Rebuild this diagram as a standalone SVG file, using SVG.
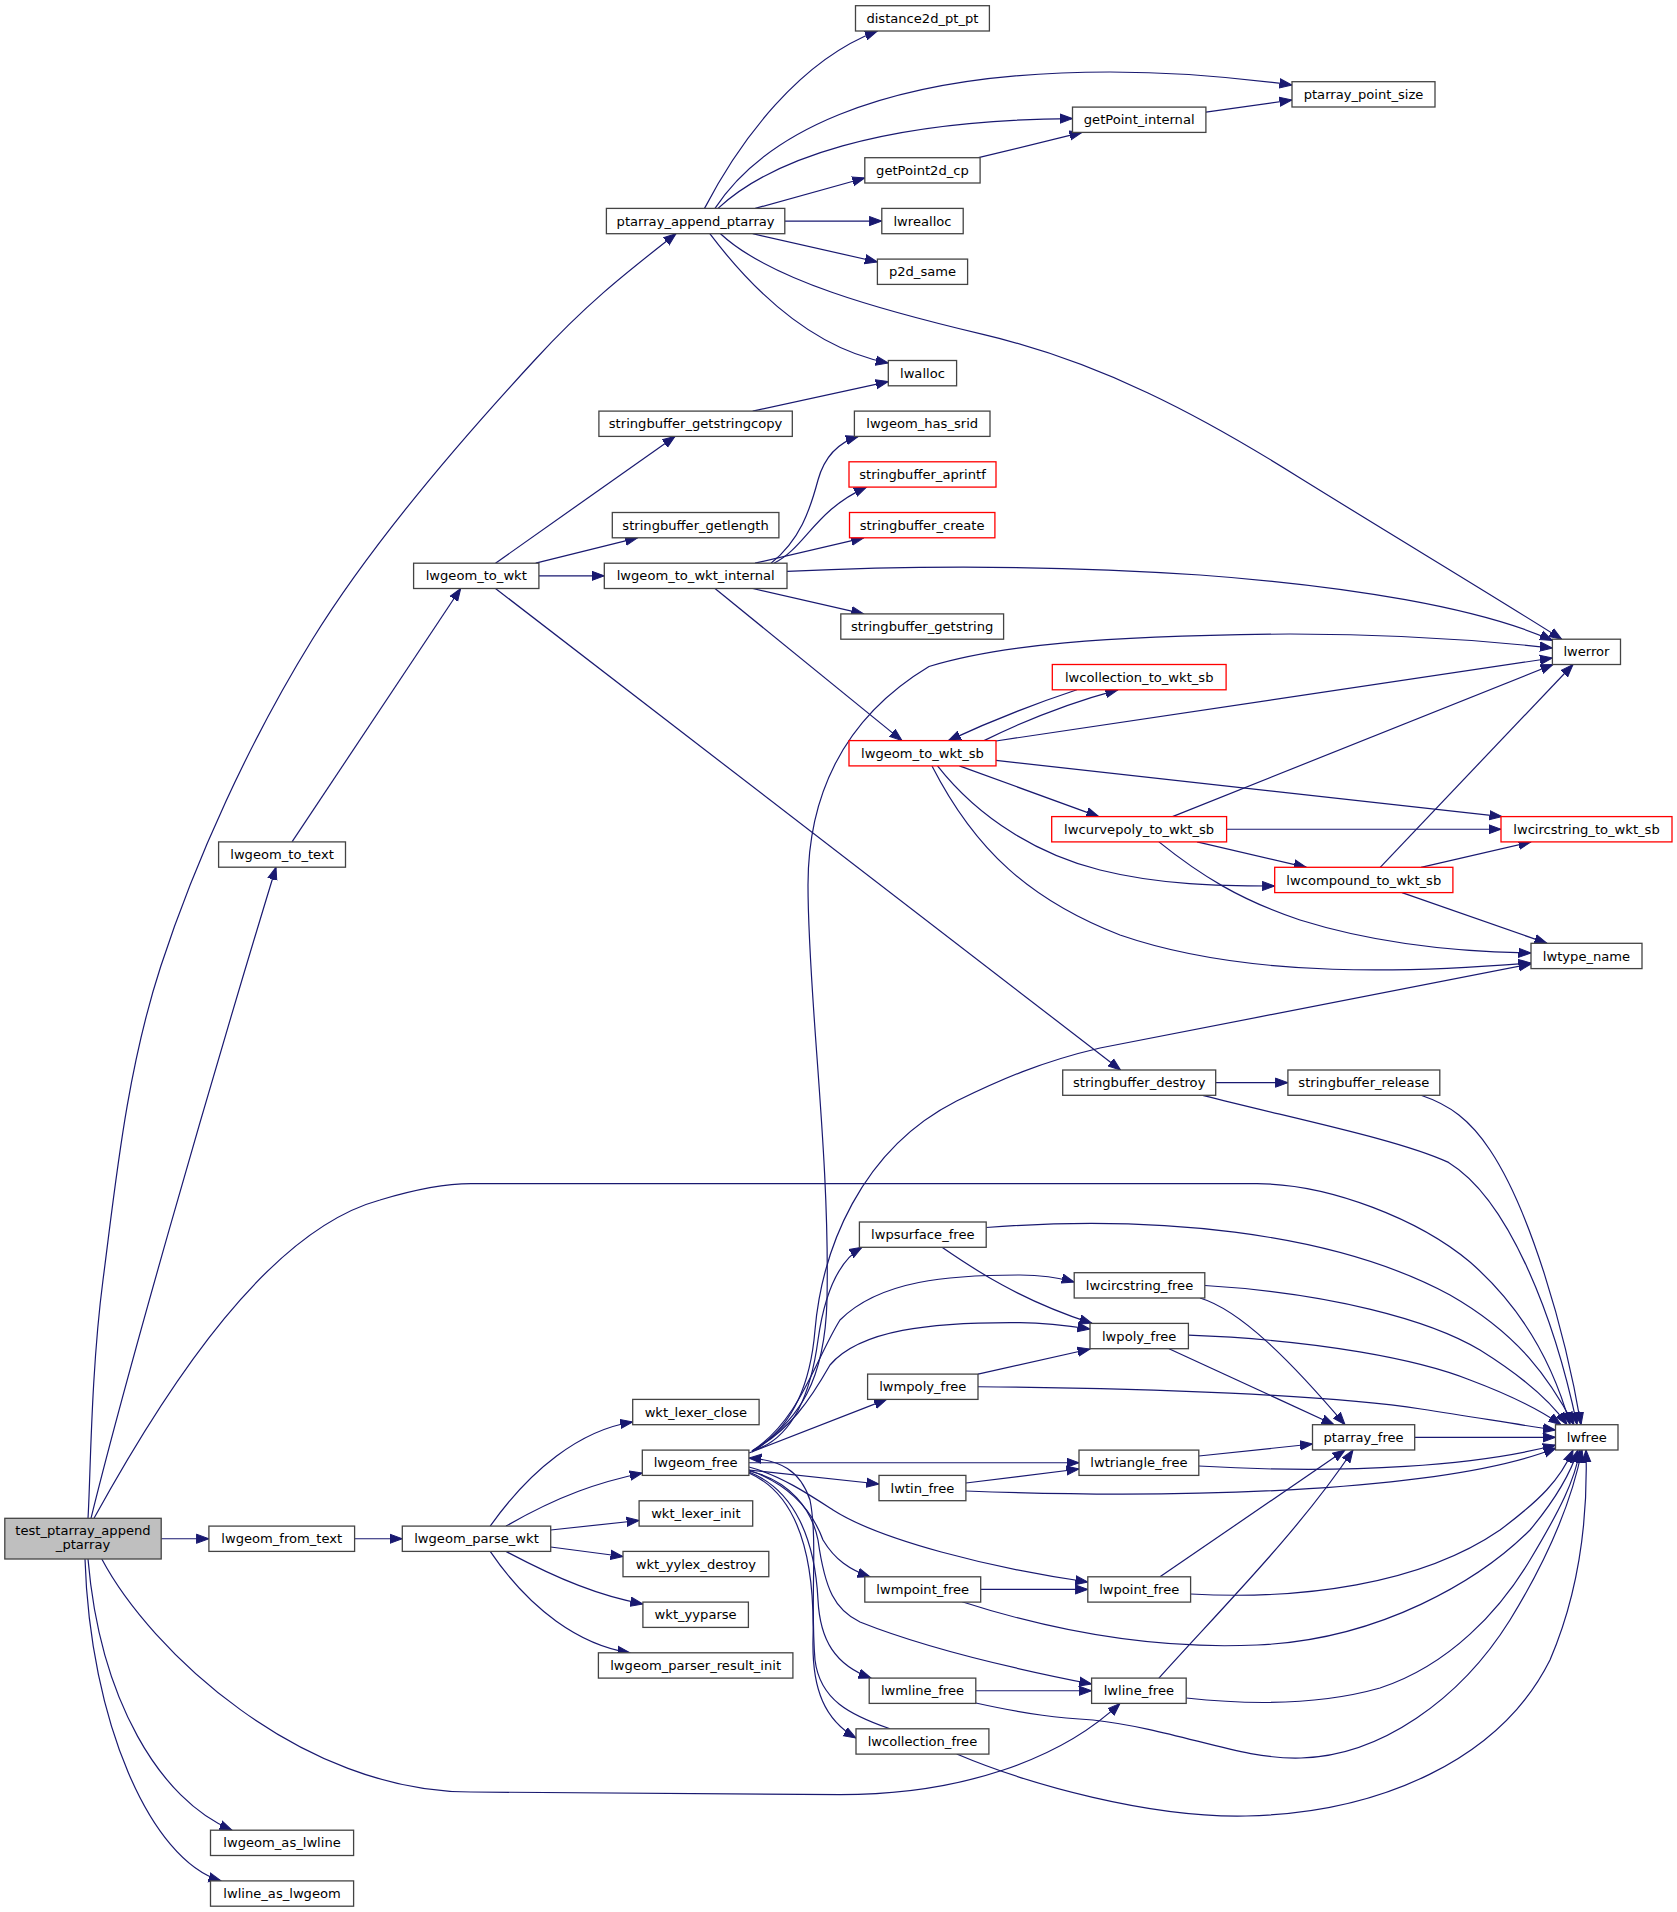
<svg xmlns="http://www.w3.org/2000/svg" width="1677" height="1912" viewBox="0 0 1677 1912">
<style>
.n rect{fill:#ffffff;stroke:#444444;stroke-width:1.3}
.n.r rect{stroke:#ff0000}
.n.root rect{fill:#bfbfbf;stroke:#444444}
.n text{font-family:"DejaVu Sans",sans-serif;font-size:13.1px;fill:#000000;text-anchor:middle}
#edges path{fill:none;stroke:#191970;stroke-width:1.2;marker-end:url(#arr)}
</style>
<defs>
<marker id="arr" markerUnits="userSpaceOnUse" markerWidth="14" markerHeight="12" viewBox="0 -6 14 12" refX="12.5" refY="0" orient="auto">
<path d="M0,-4.6 L12.5,0 L0,4.6 Z" fill="#191970" stroke="#191970" stroke-width="1"/>
</marker>
</defs>
<rect x="0" y="0" width="1677" height="1912" fill="#ffffff"/>
<g id="edges">
<path d="M88,1518.3 C90.5,1478.6 90.9,1372 103,1280 C115.1,1188 125.9,1073.2 160.7,966.5 C195.5,859.8 249.5,741.3 312,640 C374.5,538.8 470,430 535.7,359 C590,300 630,270 676,233.7"/>
<path d="M91,1518.3 C125,1380 205,1100 276,867.2"/>
<path d="M94,1518.3 C170,1380 270,1230 380,1200 C420,1188 450,1183.7 471,1183.7 L1257,1183.7 C1330,1183.7 1420,1220 1470,1262 C1525,1310 1555,1370 1570,1424.7"/>
<path d="M161.2,1538.75 L208.9,1538.75"/>
<path d="M101.8,1559 C150,1650 300,1792 471,1792 L840,1794.7 C960,1794.7 1060,1760 1120,1703.4"/>
<path d="M88,1559 C100,1700 160,1800 232,1830.2"/>
<path d="M85,1559 C90,1720 150,1860 221,1880.9"/>
<path d="M292,841.9 L460.7,588.5"/>
<path d="M354.6,1538.75 L402.3,1538.75"/>
<path d="M495.5,563.2 L675,436.4"/>
<path d="M535.7,563.2 L637.5,537.8"/>
<path d="M538.9,575.85 L604.3,575.85"/>
<path d="M495.5,588.5 L1120.6,1070"/>
<path d="M490.2,1526.1 C530,1470 580,1430 632.7,1422"/>
<path d="M506,1526.1 C560,1495 600,1482 642.3,1473"/>
<path d="M550.7,1530 L639.1,1520.5"/>
<path d="M550.7,1547 L623,1556.5"/>
<path d="M506,1551.4 C560,1580 600,1596 642.9,1604"/>
<path d="M490.2,1551.4 C530,1610 580,1645 630,1652.8"/>
<path d="M704.5,208.4 C740,140 800,60 877.4,31"/>
<path d="M715,208.4 C760,140 870,72 1110,72 C1180,72 1240,78 1292,85"/>
<path d="M718,208.4 C770,160 880,120 1072.5,118.6"/>
<path d="M755.3,208.4 L864.8,178"/>
<path d="M784.8,221.05 L881.8,221.05"/>
<path d="M752.7,233.7 L877.4,262"/>
<path d="M709.8,233.7 C760,300 820,350 888.3,363"/>
<path d="M720.5,233.7 C770,280 880,310 984,334.7 C1100,362 1200,415 1300,478 C1400,540 1500,600 1561.7,639.2"/>
<path d="M978.5,157.7 L1082,132.4"/>
<path d="M1205.9,112.2 L1292,100"/>
<path d="M752.7,411.1 L888.3,381.6"/>
<path d="M771,563.2 C800,540 810,510 818,480 C825,455 840,442 858.3,436.4"/>
<path d="M774,563.2 C805,548 815,510 866.5,487.1"/>
<path d="M755,563.2 L863.7,537.8"/>
<path d="M787,571.4 C900,566 1050,565 1200,575 C1350,586 1480,608 1552.4,640.5"/>
<path d="M752.7,588.5 L863.7,613.9"/>
<path d="M715,588.5 L902,740.6"/>
<path d="M984,740.6 Q1050,708 1117.9,689.8"/>
<path d="M1076.9,689.8 Q1010,712 948.4,740.6"/>
<path d="M996,741 L1552.4,658"/>
<path d="M996,760.4 L1502,816.6"/>
<path d="M959.4,765.9 L1098.7,816.6"/>
<path d="M937.5,765.9 C980,820 1040,855 1100,870 C1160,885 1220,886 1274.7,886"/>
<path d="M932,765.9 C975,850 1030,900 1120,935 C1250,980 1420,972 1531,963"/>
<path d="M1172.5,816.6 L1553,664.5"/>
<path d="M1226.6,829.25 L1501,829.25"/>
<path d="M1197,841.9 L1306.4,867.3"/>
<path d="M1158.9,841.9 C1200,875 1240,900 1300,920 C1380,945 1460,952 1531,953"/>
<path d="M1380.2,867.3 L1573,664.5"/>
<path d="M1421,867.3 L1531,841.9"/>
<path d="M1402,892.6 L1547,943.3"/>
<path d="M752,1451 C790,1430 810,1390 815,1330 C822,1250 860,1150 956.6,1101 C1000,1080 1040,1062 1100,1048 L1531,964"/>
<path d="M752,1452 C800,1420 825,1380 827,1300 C830,1150 808,1000 808,885 C808,800 840,720 929,666.5 C1000,645 1100,636 1290,634 C1400,634 1480,640 1552.4,648"/>
<path d="M752,1451 C790,1440 810,1400 818,1340 C825,1290 840,1260 862,1247.3"/>
<path d="M752,1451 C800,1420 815,1360 840,1320 C880,1280 950,1275 1020,1275 C1040,1275 1060,1278 1074.2,1282"/>
<path d="M752,1451 C790,1430 810,1400 830,1365 C860,1330 930,1322 1020,1322.7 C1045,1323 1070,1326 1090,1329"/>
<path d="M749,1453 L886.7,1399.4"/>
<path d="M748.9,1462.75 L1079,1462.75"/>
<path d="M748.9,1470 L879,1484"/>
<path d="M748.9,1467 C780,1475 810,1495 833,1510 C880,1540 990,1568 1087.8,1582"/>
<path d="M748.9,1470 C790,1485 812,1510 823,1540 C835,1560 850,1570 870,1576.8"/>
<path d="M748.9,1471 C790,1480 812,1510 818,1540 C825,1590 835,1610 860,1622 C930,1650 1020,1670 1091.6,1684"/>
<path d="M748.9,1472 C795,1490 815,1540 818,1600 C820,1640 835,1665 871,1678.1"/>
<path d="M748.9,1473 C800,1495 815,1560 813,1640 C812,1690 825,1720 856,1738"/>
<path d="M890,1728.8 C850,1715 820,1700 815,1660 C810,1600 818,1540 810,1500 C800,1470 780,1460 748.9,1458"/>
<path d="M1202.6,1095.3 C1300,1120 1400,1140 1448.5,1162.4 C1510,1200 1555,1320 1577,1424.7"/>
<path d="M1421,1095.3 C1450,1105 1470,1120 1490,1150 C1530,1210 1565,1330 1581,1424.7"/>
<path d="M986.2,1227.5 C1150,1215 1330,1230 1450,1295 C1520,1335 1550,1380 1574,1424.7"/>
<path d="M942,1247.3 C975,1270 1020,1300 1092,1323.4"/>
<path d="M1204.8,1285.5 C1330,1293 1430,1320 1480,1350 C1520,1375 1550,1400 1567,1424.7"/>
<path d="M1200,1298 C1240,1310 1290,1360 1345,1424.7"/>
<path d="M1188.4,1335.2 C1320,1340 1420,1360 1470,1380 C1510,1395 1540,1410 1561,1424.7"/>
<path d="M1169,1348.7 L1334,1424.7"/>
<path d="M978,1374.1 L1090,1349"/>
<path d="M978,1386.75 C1150,1388 1330,1395 1421,1409 C1480,1418 1520,1425 1555.5,1430"/>
<path d="M1414.7,1437.35 L1555.5,1437.35"/>
<path d="M1198.8,1456 L1312.5,1444"/>
<path d="M1198.8,1466 C1350,1475 1480,1465 1555.5,1445"/>
<path d="M965.9,1483 L1079,1469"/>
<path d="M965.9,1491 C1200,1500 1450,1490 1556,1448"/>
<path d="M980.7,1589.45 L1087.8,1589.45"/>
<path d="M962,1601.7 C1050,1630 1150,1650 1257,1645 C1380,1640 1480,1580 1530,1530 C1555,1500 1570,1475 1578,1450"/>
<path d="M1160,1576.8 L1345,1450"/>
<path d="M1190.6,1594 C1300,1600 1420,1585 1500,1530 C1540,1500 1560,1480 1573,1450"/>
<path d="M975.8,1690.75 L1091.6,1690.75"/>
<path d="M975.8,1703 C1030,1715 1060,1718 1093,1720 C1180,1730 1240,1760 1301,1758 C1380,1756 1460,1700 1510,1620 C1550,1555 1572,1500 1582,1450"/>
<path d="M1158.9,1678.1 C1220,1610 1300,1530 1353,1450"/>
<path d="M1186.2,1698 C1250,1705 1320,1705 1380,1688 C1450,1665 1500,1610 1530,1560 C1560,1510 1575,1480 1580,1450"/>
<path d="M956.7,1754 C1030,1785 1150,1818 1246,1816 C1380,1813 1500,1760 1550,1660 C1580,1590 1588,1520 1586,1450"/>
<path d="M1215.7,1082.65 L1287.9,1082.65"/>
</g>
<g id="node-test_ptarray_append_ptarray" class="n root"><rect x="4.8" y="1518.3" width="156.4" height="40.7"/><text x="83" y="1534.8">test_ptarray_append</text><text x="83" y="1549.3">_ptarray</text></g>
<g id="node-ptarray_append_ptarray" class="n"><rect x="606.4" y="208.4" width="178.4" height="25.3"/><text x="695.6" y="225.6">ptarray_append_ptarray</text></g>
<g id="node-distance2d_pt_pt" class="n"><rect x="855.5" y="5.7" width="133.9" height="25.3"/><text x="922.45" y="22.9">distance2d_pt_pt</text></g>
<g id="node-ptarray_point_size" class="n"><rect x="1292" y="81.7" width="143" height="25.3"/><text x="1363.5" y="98.9">ptarray_point_size</text></g>
<g id="node-getPoint_internal" class="n"><rect x="1072.5" y="107.1" width="133.4" height="25.3"/><text x="1139.2" y="124.3">getPoint_internal</text></g>
<g id="node-getPoint2d_cp" class="n"><rect x="864.8" y="157.7" width="115.3" height="25.3"/><text x="922.45" y="174.9">getPoint2d_cp</text></g>
<g id="node-lwrealloc" class="n"><rect x="881.8" y="208.4" width="81.4" height="25.3"/><text x="922.5" y="225.6">lwrealloc</text></g>
<g id="node-p2d_same" class="n"><rect x="877.4" y="259.1" width="90.2" height="25.3"/><text x="922.5" y="276.3">p2d_same</text></g>
<g id="node-lwalloc" class="n"><rect x="888.3" y="360.5" width="68.3" height="25.3"/><text x="922.45" y="377.7">lwalloc</text></g>
<g id="node-stringbuffer_getstringcopy" class="n"><rect x="598.9" y="411.1" width="193.4" height="25.3"/><text x="695.6" y="428.3">stringbuffer_getstringcopy</text></g>
<g id="node-lwgeom_has_srid" class="n"><rect x="854.4" y="411.1" width="135.6" height="25.3"/><text x="922.2" y="428.3">lwgeom_has_srid</text></g>
<g id="node-stringbuffer_aprintf" class="n r"><rect x="849" y="461.8" width="147" height="25.3"/><text x="922.5" y="479">stringbuffer_aprintf</text></g>
<g id="node-stringbuffer_getlength" class="n"><rect x="612.3" y="512.5" width="166.6" height="25.3"/><text x="695.6" y="529.7">stringbuffer_getlength</text></g>
<g id="node-stringbuffer_create" class="n r"><rect x="849.5" y="512.5" width="145.4" height="25.3"/><text x="922.2" y="529.7">stringbuffer_create</text></g>
<g id="node-lwgeom_to_wkt" class="n"><rect x="413.6" y="563.2" width="125.3" height="25.3"/><text x="476.25" y="580.4">lwgeom_to_wkt</text></g>
<g id="node-lwgeom_to_wkt_internal" class="n"><rect x="604.3" y="563.2" width="182.7" height="25.3"/><text x="695.65" y="580.4">lwgeom_to_wkt_internal</text></g>
<g id="node-stringbuffer_getstring" class="n"><rect x="840.8" y="613.9" width="162.8" height="25.3"/><text x="922.2" y="631.1">stringbuffer_getstring</text></g>
<g id="node-lwerror" class="n"><rect x="1552.4" y="639.2" width="68.1" height="25.3"/><text x="1586.45" y="656.4">lwerror</text></g>
<g id="node-lwcollection_to_wkt_sb" class="n r"><rect x="1052.3" y="664.5" width="173.8" height="25.3"/><text x="1139.2" y="681.7">lwcollection_to_wkt_sb</text></g>
<g id="node-lwgeom_to_wkt_sb" class="n r"><rect x="849" y="740.6" width="147" height="25.3"/><text x="922.5" y="757.8">lwgeom_to_wkt_sb</text></g>
<g id="node-lwcurvepoly_to_wkt_sb" class="n r"><rect x="1051.7" y="816.6" width="174.9" height="25.3"/><text x="1139.15" y="833.8">lwcurvepoly_to_wkt_sb</text></g>
<g id="node-lwcircstring_to_wkt_sb" class="n r"><rect x="1501" y="816.6" width="171" height="25.3"/><text x="1586.5" y="833.8">lwcircstring_to_wkt_sb</text></g>
<g id="node-lwgeom_to_text" class="n"><rect x="218.6" y="841.9" width="126.9" height="25.3"/><text x="282.05" y="859.1">lwgeom_to_text</text></g>
<g id="node-lwcompound_to_wkt_sb" class="n r"><rect x="1274.7" y="867.3" width="178.2" height="25.3"/><text x="1363.8" y="884.5">lwcompound_to_wkt_sb</text></g>
<g id="node-lwtype_name" class="n"><rect x="1531" y="943.3" width="111" height="25.3"/><text x="1586.5" y="960.5">lwtype_name</text></g>
<g id="node-stringbuffer_destroy" class="n"><rect x="1062.7" y="1070" width="153" height="25.3"/><text x="1139.2" y="1087.2">stringbuffer_destroy</text></g>
<g id="node-stringbuffer_release" class="n"><rect x="1287.9" y="1070" width="151.9" height="25.3"/><text x="1363.85" y="1087.2">stringbuffer_release</text></g>
<g id="node-lwpsurface_free" class="n"><rect x="859.4" y="1222" width="126.8" height="25.3"/><text x="922.8" y="1239.2">lwpsurface_free</text></g>
<g id="node-lwcircstring_free" class="n"><rect x="1074.2" y="1272.7" width="130.6" height="25.3"/><text x="1139.5" y="1289.9">lwcircstring_free</text></g>
<g id="node-lwpoly_free" class="n"><rect x="1090" y="1323.4" width="98.4" height="25.3"/><text x="1139.2" y="1340.6">lwpoly_free</text></g>
<g id="node-lwmpoly_free" class="n"><rect x="867.6" y="1374.1" width="110.4" height="25.3"/><text x="922.8" y="1391.3">lwmpoly_free</text></g>
<g id="node-wkt_lexer_close" class="n"><rect x="632.7" y="1399.4" width="126.4" height="25.3"/><text x="695.9" y="1416.6">wkt_lexer_close</text></g>
<g id="node-ptarray_free" class="n"><rect x="1312.5" y="1424.7" width="102.2" height="25.3"/><text x="1363.6" y="1441.9">ptarray_free</text></g>
<g id="node-lwfree" class="n"><rect x="1555.5" y="1424.7" width="62.5" height="25.3"/><text x="1586.75" y="1441.9">lwfree</text></g>
<g id="node-lwgeom_free" class="n"><rect x="642.3" y="1450.1" width="106.6" height="25.3"/><text x="695.6" y="1467.3">lwgeom_free</text></g>
<g id="node-lwtriangle_free" class="n"><rect x="1079" y="1450.1" width="119.8" height="25.3"/><text x="1138.9" y="1467.3">lwtriangle_free</text></g>
<g id="node-lwtin_free" class="n"><rect x="879" y="1475.4" width="86.9" height="25.3"/><text x="922.45" y="1492.6">lwtin_free</text></g>
<g id="node-wkt_lexer_init" class="n"><rect x="639.1" y="1500.8" width="113.6" height="25.3"/><text x="695.9" y="1518">wkt_lexer_init</text></g>
<g id="node-lwgeom_from_text" class="n"><rect x="208.9" y="1526.1" width="145.7" height="25.3"/><text x="281.75" y="1543.3">lwgeom_from_text</text></g>
<g id="node-lwgeom_parse_wkt" class="n"><rect x="402.3" y="1526.1" width="148.4" height="25.3"/><text x="476.5" y="1543.3">lwgeom_parse_wkt</text></g>
<g id="node-wkt_yylex_destroy" class="n"><rect x="623" y="1551.4" width="145.8" height="25.3"/><text x="695.9" y="1568.6">wkt_yylex_destroy</text></g>
<g id="node-lwmpoint_free" class="n"><rect x="864.8" y="1576.8" width="115.9" height="25.3"/><text x="922.75" y="1594">lwmpoint_free</text></g>
<g id="node-lwpoint_free" class="n"><rect x="1087.8" y="1576.8" width="102.8" height="25.3"/><text x="1139.2" y="1594">lwpoint_free</text></g>
<g id="node-wkt_yyparse" class="n"><rect x="642.9" y="1602.1" width="105.5" height="25.3"/><text x="695.65" y="1619.3">wkt_yyparse</text></g>
<g id="node-lwgeom_parser_result_init" class="n"><rect x="598.4" y="1652.8" width="194.5" height="25.3"/><text x="695.65" y="1670">lwgeom_parser_result_init</text></g>
<g id="node-lwmline_free" class="n"><rect x="869.2" y="1678.1" width="106.6" height="25.3"/><text x="922.5" y="1695.3">lwmline_free</text></g>
<g id="node-lwline_free" class="n"><rect x="1091.6" y="1678.1" width="94.6" height="25.3"/><text x="1138.9" y="1695.3">lwline_free</text></g>
<g id="node-lwcollection_free" class="n"><rect x="856" y="1728.8" width="132.9" height="25.3"/><text x="922.45" y="1746">lwcollection_free</text></g>
<g id="node-lwgeom_as_lwline" class="n"><rect x="210.5" y="1830.2" width="143.1" height="25.3"/><text x="282.05" y="1847.4">lwgeom_as_lwline</text></g>
<g id="node-lwline_as_lwgeom" class="n"><rect x="210.5" y="1880.9" width="143.1" height="25.3"/><text x="282.05" y="1898.1">lwline_as_lwgeom</text></g>
</svg>
